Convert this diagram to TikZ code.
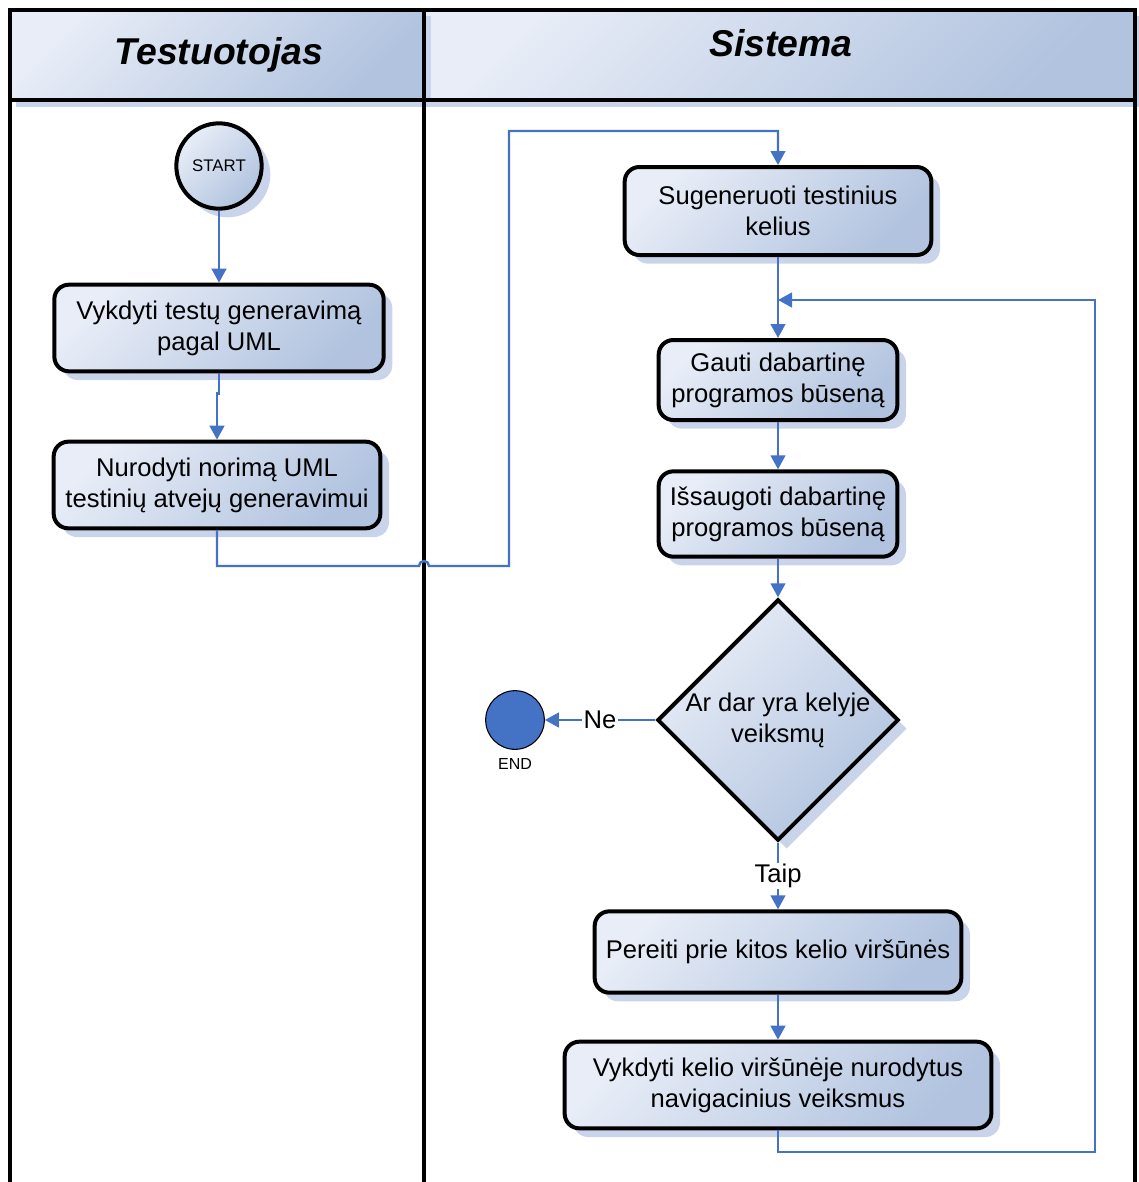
\documentclass[tikz,border=0pt]{standalone}
\usepackage{fontspec}
\setmainfont{Liberation Sans}
\usetikzlibrary{arrows.meta,shapes.geometric,shadows}

\definecolor{flowblue}{HTML}{4472C4}
\definecolor{shadelight}{HTML}{E8EDF7}
\definecolor{shadedark}{HTML}{B1C3DF}
\definecolor{shadowblue}{HTML}{C9D4EA}

\tikzset{
  boxshade/.style={top color=shadelight, bottom color=shadedark, shading angle=45},
  boxshadow/.style={drop shadow={shadow xshift=6.5pt, shadow yshift=-6.5pt, fill=shadowblue, opacity=1}},
  bodytext/.style={font=\fontsize{19.2}{23.3}\selectfont},
  procbox/.style={draw=black, line width=3pt, rounded corners=11pt, boxshade, boxshadow,
    align=center, inner sep=2pt, bodytext},
  startnode/.style={circle, draw=black, line width=3pt, boxshade, boxshadow,
    minimum size=64pt, inner sep=0pt, font=\fontsize{12.6}{15}\selectfont},
  endnode/.style={circle, draw=black, line width=0.8pt, fill=flowblue, minimum size=44pt, inner sep=0pt},
  decision/.style={diamond, draw=black, line width=3pt, boxshade, boxshadow,
    minimum width=181pt, minimum height=181pt, inner sep=0pt},
  lanetitle/.style={anchor=base, font=\fontsize{28}{34}\selectfont\bfseries\itshape},
  lane/.style={draw=black, line width=3pt},
  conn/.style={draw=flowblue, line width=1.8pt, -{Triangle[length=10.5pt,width=11pt]}},
  plainconn/.style={draw=flowblue, line width=1.8pt},
  branchlabel/.style={bodytext, fill=white, inner sep=1pt}
}

\begin{document}
\begin{tikzpicture}[x=0.75pt, y=-0.75pt]
  \useasboundingbox (0,0) rectangle (1139,1182);

  % swimlane headers with their shadows
  \fill[shadowblue] (430,16) rectangle (1141,107);
  \path[boxshade] (424,10) rectangle (1135,100);
  \fill[shadowblue] (16,16) rectangle (431,107);
  \path[boxshade] (10,10) rectangle (424,100);

  % swimlane frame
  \draw[lane] (10,1182) -- (10,10) -- (1135,10) -- (1135,1182);
  \draw[lane] (10,100) -- (1135,100);
  \draw[lane] (424,10) -- (424,1182);

  \node[lanetitle] (laneA) at (219,64) {Testuotojas};
  \node[lanetitle] (laneB) at (781,56) {Sistema};

  % activities
  \node[startnode] (start) at (219,166) {START};
  \node[procbox, minimum width=247pt, minimum height=65pt] (b1) at (219,328)
    {Vykdyti testų generavimą\\pagal UML};
  \node[procbox, minimum width=245pt, minimum height=65pt] (b2) at (217,485)
    {Nurodyti norimą UML\\testinių atvejų generavimui};

  \node[procbox, minimum width=230pt, minimum height=66pt] (s1) at (778,211)
    {Sugeneruoti testinius\\kelius};
  \node[procbox, minimum width=179pt, minimum height=60pt] (s2) at (778,380)
    {Gauti dabartinę\\programos būseną};
  \node[procbox, minimum width=179pt, minimum height=64pt] (s3) at (778,514)
    {Išsaugoti dabartinę\\programos būseną};
  \node[decision] (dec) at (778,720) {};
  \node[bodytext, align=center] (dectext) at (778,720) {Ar dar yra kelyje\\veiksmų};
  \node[endnode] (end) at (515,720) {};
  \node[font=\fontsize{12}{14}\selectfont] (endlbl) at (515,764) {END};
  \node[procbox, minimum width=275pt, minimum height=61pt] (s5) at (778,952)
    {Pereiti prie kitos kelio viršūnės};
  \node[procbox, minimum width=320pt, minimum height=65pt] (s6) at (778,1085)
    {Vykdyti kelio viršūnėje nurodytus\\navigacinius veiksmus};

  % bend points of the long connectors
  \coordinate (hopL) at (419,566);
  \coordinate (rise) at (509,131);
  \coordinate (loopA) at (1095,1152);
  \coordinate (merge) at (778,300);

  % flow
  \draw[conn] (start) -- (b1);
  \draw[conn] (b1.south) -- ++(0,20) -| (b2.north);
  \draw[conn] (b2.south) |- (hopL) arc[start angle=180, end angle=360, radius=5] -| (rise) -| (s1.north);
  \draw[conn] (s1) -- (s2);
  \draw[conn] (s2) -- (s3);
  \draw[conn] (s3) -- (dec.north);
  \draw[conn] (dec.west) -- node[branchlabel] {Ne} (end);
  \draw[conn] (dec.south) -- node[branchlabel] {Taip} (s5);
  \draw[conn] (s5) -- (s6);
  \draw[conn] (s6.south) |- (loopA) |- (merge);
\end{tikzpicture}
\end{document}
